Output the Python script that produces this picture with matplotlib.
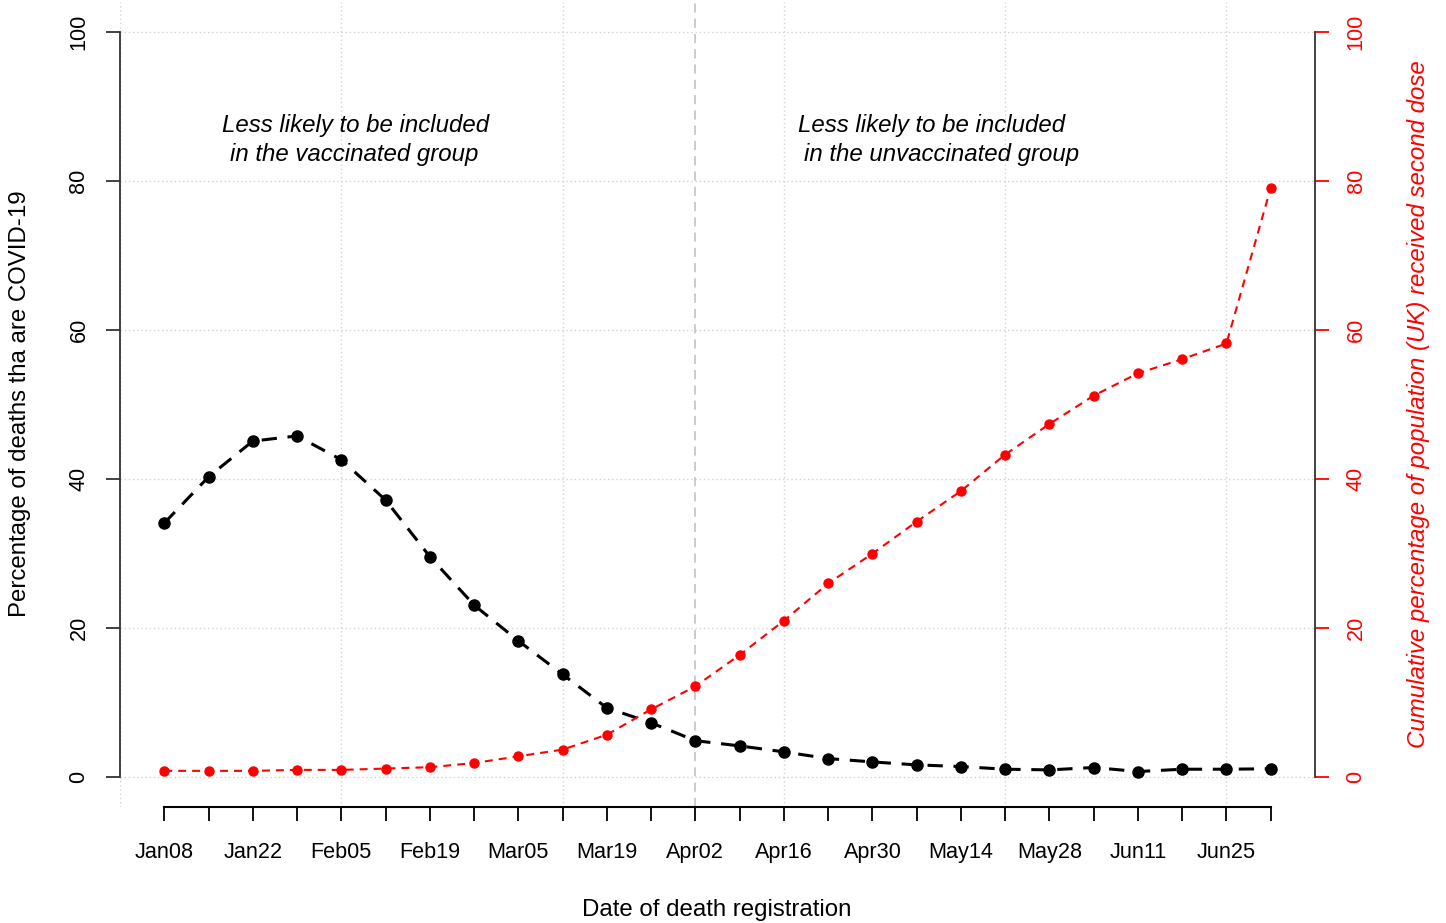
import matplotlib
matplotlib.use("Agg")
import matplotlib.pyplot as plt
import numpy as np

plt.rcParams['font.family'] = ['Liberation Sans', 'DejaVu Sans']

### data
weeks = ['Jan08', 'Jan15', 'Jan22', 'Jan29', 'Feb05', 'Feb12', 'Feb19', 'Feb26',
         'Mar05', 'Mar12', 'Mar19', 'Mar26', 'Apr02', 'Apr09', 'Apr16', 'Apr23',
         'Apr30', 'May07', 'May14', 'May21', 'May28', 'Jun04', 'Jun11', 'Jun18',
         'Jun25', 'Jul02']
covid_pct = [34.1, 40.3, 45.1, 45.8, 42.6, 37.2, 29.6, 23.1, 18.3, 13.8, 9.3, 7.3,
             4.9, 4.2, 3.4, 2.5, 2.05, 1.65, 1.43, 1.07, 0.98, 1.3, 0.76, 1.07,
             1.07, 1.13]
second_dose_pct = [0.85, 0.85, 0.85, 0.98, 0.98, 1.16, 1.34, 1.9, 2.8, 3.7, 5.7, 9.1,
                   12.2, 16.4, 21.0, 26.0, 30.0, 34.3, 38.4, 43.3, 47.4, 51.2, 54.2,
                   56.1, 58.2, 79.1]
y_ticks = [0, 20, 40, 60, 80, 100]
x_grid = [0, 5, 10, 15, 20, 25]
cutoff_week = 'Apr02'

x = np.arange(1, len(weeks) + 1)

W, H = 1446, 923
fig = plt.figure(figsize=(W / 100, H / 100), dpi=100)
ax = fig.add_axes([120 / W, 1 - 807 / H, 1195 / W, (807 - 2.2) / H])
ax.set_xlim(0, 27)
ax.set_ylim(-4, 104)

### grid (R style dotted lightgray)
for g in y_ticks:
    ax.axhline(g, color='#d3d3d3', lw=1, ls=(0, (1, 2)), zorder=0)
for g in x_grid:
    ax.axvline(g, color='#d3d3d3', lw=1, ls=(0, (1, 2)), zorder=0)
ax.axvline(weeks.index(cutoff_week) + 1, color='#bdbdbd', lw=1.1, ls=(0, (6, 4)), zorder=0)

### series
ax.plot(x, covid_pct, color='black', lw=2.2, dashes=(5, 3.5),
        marker='o', ms=8, zorder=3)
ax2 = ax.twinx()
ax2.set_ylim(-4, 104)
ax2.plot(x, second_dose_pct, color='red', lw=1.5, dashes=(3.8, 2.9),
         marker='o', ms=6.5, zorder=3)

### axes styling
for a in (ax, ax2):
    a.spines['top'].set_visible(False)
ax.spines['right'].set_visible(False)
ax2.spines['left'].set_visible(False)
ax2.spines['bottom'].set_visible(False)
ax.spines['left'].set_bounds(0, 100)
ax.spines['left'].set_color('#333333')
ax.spines['left'].set_linewidth(1.3)
ax.spines['bottom'].set_bounds(1, len(weeks))
ax.spines['bottom'].set_linewidth(1.5)
ax2.spines['right'].set_bounds(0, 100)
ax2.spines['right'].set_color('#333333')
ax2.spines['right'].set_linewidth(1.3)

ax.set_xticks(x)
ax.set_xticklabels([w if i % 2 == 0 else '' for i, w in enumerate(weeks)], fontsize=15.6)
ax.tick_params(axis='x', length=10, width=1.3, pad=15.5, colors='black')

ax.set_yticks(y_ticks)
ax.set_yticklabels([str(v) for v in y_ticks], fontsize=15.6, rotation=90, va='center')
ax.tick_params(axis='y', length=10, width=1.3, pad=12, color='#333333')

ax2.set_yticks(y_ticks)
ax2.set_yticklabels([str(v) for v in y_ticks], fontsize=15.6, rotation=90, va='center')
ax2.tick_params(axis='y', length=10, width=1.3, pad=12, color='red', labelcolor='red')

### labels
fig.text(717 / W, 1 - 910 / H, 'Date of death registration', fontsize=17.3,
         ha='center', va='center')
fig.text(20 / W, 1 - 404 / H, 'Percentage of deaths tha are COVID-19', fontsize=17.3,
         ha='center', va='center', rotation=90)
fig.text(1418 / W, 1 - 404 / H,
         'Cumulative percentage of population (UK) received second dose',
         fontsize=17.3, ha='center', va='center', rotation=90, color='red', style='italic')

### annotations
ax.text(5.33, 87.5, 'Less likely to be included', fontsize=17.3, style='italic',
        ha='center', va='center')
ax.text(5.28, 83.6, 'in the vaccinated group', fontsize=17.3, style='italic',
        ha='center', va='center')
ax.text(18.34, 87.5, 'Less likely to be included', fontsize=17.3, style='italic',
        ha='center', va='center')
ax.text(18.57, 83.6, 'in the unvaccinated group', fontsize=17.3, style='italic',
        ha='center', va='center')

fig.savefig('out.png', dpi=100, facecolor='white')
